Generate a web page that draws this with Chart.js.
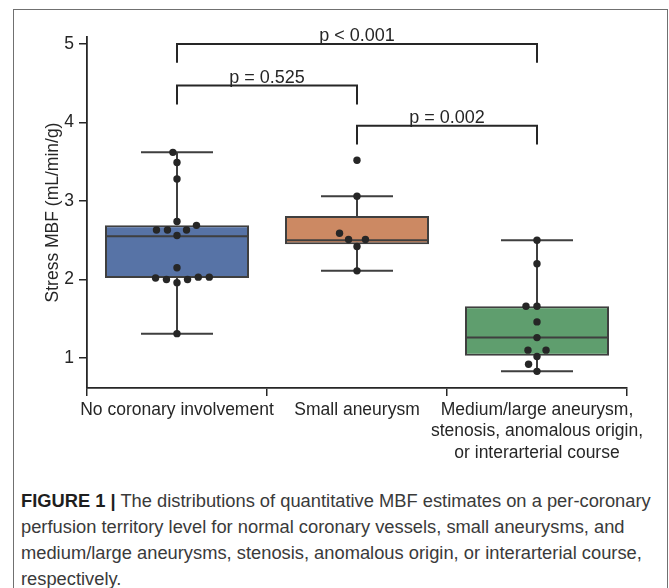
<!DOCTYPE html>
<html lang="en">
<head>
<meta charset="utf-8">
<title>Stress MBF by coronary involvement</title>
<script src="https://cdn.jsdelivr.net/npm/chart.js@4.4.1/dist/chart.umd.min.js"></script>
<style>
  html, body { margin: 0; padding: 0; background: #fff; }
  body { width: 669px; height: 588px; position: relative; overflow: hidden; }
  .frame { position: absolute; left: 13px; top: 9px; width: 655px; height: 620px; border: 1.5px solid #707070; border-bottom: none; box-sizing: border-box; }
  .plot { position: absolute; left: 0; top: 0; width: 669px; height: 470px; }
  .caption { position: absolute; left: 21px; top: 488px; font-family: "Liberation Sans Narrow", "Liberation Sans", Arial, sans-serif; font-size: 19px; line-height: 26px; color: #3a3a3a; white-space: nowrap; }
  .caption b { color: #1e1e1e; }
</style>
</head>
<body>
<div class="frame"></div>
<div class="plot"><canvas id="mbf"></canvas></div>
<div class="caption" id="caption">
  <div><span id="firstLine"><b>FIGURE 1 |</b> The distributions of quantitative MBF estimates on a per-coronary</span></div>
  <div>perfusion territory level for normal coronary vessels, small aneurysms, and</div>
  <div>medium/large aneurysms, stenosis, anomalous origin, or interarterial course,</div>
  <div>respectively.</div>
</div>
<script>
// groups on the x axis
const groupLabels = [
  ['No coronary involvement'],
  ['Small aneurysm'],
  ['Medium/large aneurysm,', 'stenosis, anomalous origin,', 'or interarterial course']
];
// individual territories (mL/min/g)
const noInvolvementMBF = [3.62, 3.49, 3.28, 2.74, 2.69, 2.63, 2.63, 2.63, 2.56, 2.15, 2.03, 2.02, 2.00, 2.00, 1.96, 2.03, 1.31];
const smallAneurysmMBF = [3.52, 3.06, 2.59, 2.51, 2.51, 2.42, 2.11];
const mediumLargeMBF = [2.50, 2.20, 1.66, 1.66, 1.46, 1.26, 1.10, 1.10, 1.02, 0.92, 0.83];
// box statistics per group
const whiskerLow = [1.31, 2.11, 0.83];
const quartile1 = [2.02, 2.45, 1.03];
const medians = [2.55, 2.50, 1.26];
const quartile3 = [2.69, 2.81, 1.66];
const whiskerHigh = [3.62, 3.06, 2.50];
const yTicks = [1, 2, 3, 4, 5];
// significance brackets
const pValueLabels = ['p < 0.001', 'p = 0.525', 'p = 0.002'];
const pValuePairs = [[0, 2], [0, 1], [1, 2]];
const pValueLevels = [5.0, 4.47, 3.96];

const boxColors = ['#5773a6', '#cc8963', '#5f9e6e'];
const edgeColor = '#3f3f3f';
const inkColor = '#262626';
const fontFamily = '"Liberation Sans", Arial, sans-serif';
const groups = [noInvolvementMBF, smallAneurysmMBF, mediumLargeMBF];

// whisker stems + caps, median lines, as broken line series
const whiskerData = [];
const medianData = [];
groupLabels.forEach((_, i) => {
  whiskerData.push({x: i, y: quartile3[i]}, {x: i, y: whiskerHigh[i]}, {x: i, y: null});
  whiskerData.push({x: i, y: quartile1[i]}, {x: i, y: whiskerLow[i]}, {x: i, y: null});
  whiskerData.push({x: i - 0.2, y: whiskerHigh[i]}, {x: i + 0.2, y: whiskerHigh[i]}, {x: i, y: null});
  whiskerData.push({x: i - 0.2, y: whiskerLow[i]}, {x: i + 0.2, y: whiskerLow[i]}, {x: i, y: null});
  medianData.push({x: i - 0.4, y: medians[i]}, {x: i + 0.4, y: medians[i]}, {x: i, y: null});
});

const pointData = [];
groups.forEach((vals, g) => vals.forEach(v => pointData.push({x: g, y: v})));

const bracketDrop = 0.24;
const pValueBrackets = {
  id: 'pValueBrackets',
  afterDatasetsDraw(chart) {
    const {ctx, scales: {x, y}} = chart;
    ctx.save();
    ctx.strokeStyle = inkColor;
    ctx.lineWidth = 2;
    ctx.fillStyle = inkColor;
    ctx.font = '18px ' + fontFamily;
    ctx.textAlign = 'center';
    ctx.textBaseline = 'bottom';
    pValuePairs.forEach(([a, b], k) => {
      const x1 = x.getPixelForValue(a), x2 = x.getPixelForValue(b);
      const yTop = y.getPixelForValue(pValueLevels[k]);
      const yEnd = y.getPixelForValue(pValueLevels[k] - bracketDrop);
      ctx.beginPath();
      ctx.moveTo(x1, yEnd);
      ctx.lineTo(x1, yTop);
      ctx.lineTo(x2, yTop);
      ctx.lineTo(x2, yEnd);
      ctx.stroke();
      ctx.fillText(pValueLabels[k], (x1 + x2) / 2, yTop + 1);
    });
    ctx.restore();
  }
};

const chart = new Chart(document.getElementById('mbf'), {
  type: 'bar',
  data: {
    datasets: [
      {
        type: 'scatter',
        data: pointData,
        order: 0,
        pointRadius: 3.7,
        pointHoverRadius: 3.7,
        backgroundColor: inkColor,
        borderWidth: 0
      },
      {
        type: 'line',
        data: medianData,
        order: 1,
        borderColor: edgeColor,
        borderWidth: 2,
        pointRadius: 0,
        spanGaps: false
      },
      {
        type: 'line',
        data: whiskerData,
        order: 2,
        borderColor: edgeColor,
        borderWidth: 2,
        pointRadius: 0,
        spanGaps: false
      },
      {
        type: 'bar',
        data: groupLabels.map((_, i) => ({x: i, y: [quartile1[i], quartile3[i]]})),
        order: 3,
        backgroundColor: boxColors,
        borderColor: edgeColor,
        borderWidth: 2,
        borderSkipped: false,
        barPercentage: 0.8,
        categoryPercentage: 1
      }
    ]
  },
  options: {
    responsive: true,
    maintainAspectRatio: false,
    animation: false,
    layout: {padding: {top: 37, right: 42, left: 0, bottom: 0}},
    plugins: {legend: {display: false}, tooltip: {enabled: false}},
    scales: {
      x: {
        type: 'linear',
        min: -0.5,
        max: 2.5,
        offset: false,
        afterBuildTicks: s => { s.ticks = groupLabels.map((_, i) => ({value: i})); },
        afterFit: s => { s.height = 82; },
        ticks: {
          callback: v => groupLabels[v],
          color: inkColor,
          font: {family: fontFamily, size: 17.5, lineHeight: 1.23},
          padding: 3,
          maxRotation: 0,
          autoSkip: false
        },
        grid: {drawOnChartArea: false, drawTicks: true, tickLength: 8, color: inkColor, lineWidth: 1.5},
        border: {display: true, color: inkColor, width: 1.8}
      },
      y: {
        min: 0.618,
        max: 5.089,
        afterBuildTicks: s => { s.ticks = yTicks.map(v => ({value: v})); },
        afterFit: s => { s.width = 87; },
        ticks: {
          color: inkColor,
          font: {family: fontFamily, size: 17.5},
          padding: 5
        },
        grid: {drawOnChartArea: false, drawTicks: true, tickLength: 8, color: inkColor, lineWidth: 1.5},
        border: {display: true, color: inkColor, width: 1.8},
        title: {
          display: true,
          text: 'Stress MBF (mL/min/g)',
          color: inkColor,
          font: {family: fontFamily, size: 17.5},
          padding: {top: 43, bottom: 0}
        }
      }
    }
  },
  plugins: [pValueBrackets]
});

// beeswarm layout in pixels, converted back to x units
function swarmOffsets(values, yScale, diameter) {
  const order = values.map((v, i) => i).sort((a, b) => values[a] - values[b]);
  const placed = [];
  const offsets = new Array(values.length).fill(0);
  order.forEach(i => {
    const py = yScale.getPixelForValue(values[i]);
    const near = placed.filter(p => Math.abs(p.y - py) < diameter);
    const candidates = [0];
    near.forEach(p => {
      const dx = Math.sqrt(diameter * diameter - (p.y - py) ** 2);
      candidates.push(p.x - dx, p.x + dx);
    });
    candidates.sort((a, b) => Math.abs(a) - Math.abs(b));
    const cx = candidates.find(c => near.every(p => Math.hypot(p.x - c, p.y - py) >= diameter - 1e-6));
    placed.push({x: cx, y: py});
    offsets[i] = cx;
  });
  return offsets;
}

const unitPx = chart.scales.x.getPixelForValue(1) - chart.scales.x.getPixelForValue(0);
const swarmData = [];
groups.forEach((vals, g) => {
  const offs = swarmOffsets(vals, chart.scales.y, 11);
  vals.forEach((v, k) => swarmData.push({x: g + offs[k] / unitPx, y: v}));
});
chart.data.datasets[0].data = swarmData;
chart.update('none');

// fit caption so its first line spans the same width as the figure text
const cap = document.getElementById('caption');
const first = document.getElementById('firstLine');
const w = first.getBoundingClientRect().width;
cap.style.fontSize = (19 * 630 / w).toFixed(2) + 'px';
</script>
</body>
</html>
